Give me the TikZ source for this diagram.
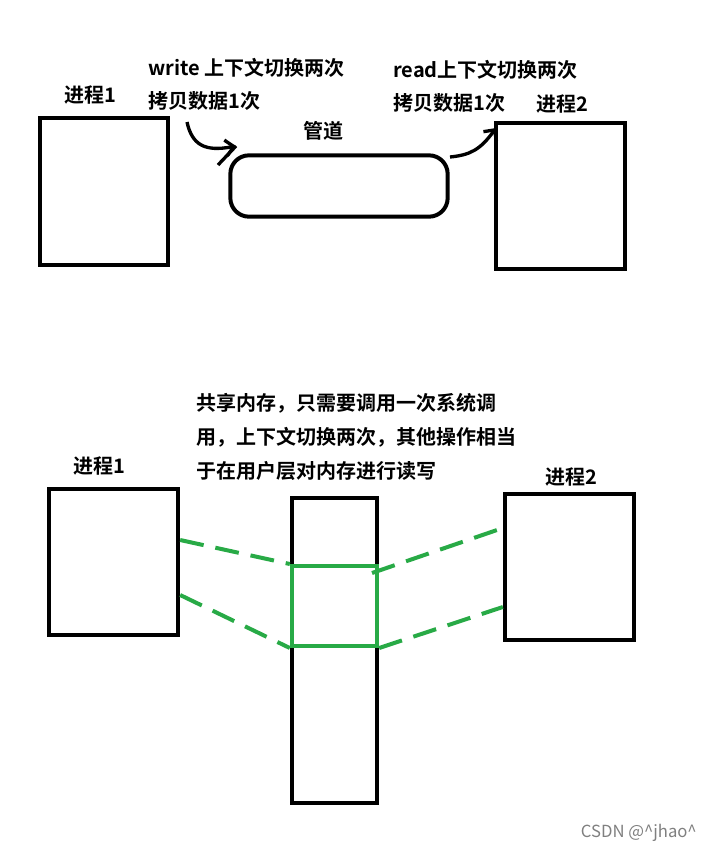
\documentclass[tikz,border=0pt]{standalone}
\usepackage{fontspec}
\setmainfont{Noto Sans CJK SC}
\newfontfamily\cjkb{Noto Sans CJK SC Bold}
\usetikzlibrary{arrows.meta}
\definecolor{grn}{RGB}{40,170,70}
\begin{document}
\begin{tikzpicture}[x=0.75pt,y=-0.75pt]
\tikzset{box/.style={draw,line width=3pt},
 lbl/.style={font=\cjkb\fontsize{15}{17}\selectfont,inner sep=0pt,anchor=west},
 gline/.style={draw=grn,line width=3pt,dash pattern=on 18pt off 9pt}}
\useasboundingbox (0,0) rectangle (711,853);
\fill[white] (0,0) rectangle (711,853);
% top
\node[box,minimum width=96pt,minimum height=110pt,inner sep=0pt] (p1) at (104,191.5) {};
\node[lbl] (p1l) at (64,95) {进程1};
\node[box,minimum width=97pt,minimum height=110pt,inner sep=0pt] (p2) at (560.5,196) {};
\node[lbl] (p2l) at (536,104) {进程2};
\node[box,rounded corners=14pt,minimum width=163pt,minimum height=46pt,inner sep=0pt] (pipe) at (339,186) {};
\node[lbl] (pipel) at (303,131) {管道};
\node[lbl] (w1) at (148,68) {write 上下文切换两次};
\node[lbl] (w2) at (148,101) {拷贝数据1次};
\node[lbl] (r1) at (393,70) {read上下文切换两次};
\node[lbl] (r2) at (393,103) {拷贝数据1次};
\coordinate (a1s) at (187,122); \coordinate (a1e) at (236,146);
\coordinate (a2s) at (450,157); \coordinate (a2e) at (496,128);
\draw[line width=2.5pt,-{Straight Barb[length=6pt]}] (a1s) .. controls (192,145) and (205,152) .. (a1e);
\draw[line width=2.5pt] (218,165) -- (236,146);
\draw[line width=2.5pt,-{Straight Barb[length=6pt]}] (a2s) .. controls (470,155) and (480,150) .. (a2e);
% bottom
\node[lbl] (t1) at (196,403) {共享内存，只需要调用一次系统调};
\node[lbl] (t2) at (196,437) {用，上下文切换两次，其他操作相当};
\node[lbl] (t3) at (196,471) {于在用户层对内存进行读写};
\node[box,minimum width=97pt,minimum height=110pt,inner sep=0pt] (q1) at (113.5,562) {};
\node[lbl] (q1l) at (73,466) {进程1};
\node[box,minimum width=97pt,minimum height=110pt,inner sep=0pt] (q2) at (569.5,567) {};
\node[lbl] (q2l) at (545,477) {进程2};
\node[box,minimum width=64pt,minimum height=229pt,inner sep=0pt] (col) at (334.5,650.5) {};
\node[draw=grn,line width=3pt,minimum width=64pt,minimum height=60pt,inner sep=0pt] (mem) at (334.5,606) {};
\draw[gline] (q1.east |- 0,540) -- (mem.north west);
\draw[gline] (q1.east |- 0,595) -- (mem.south west);
\draw[gline] (372,573) -- (q2.west |- 0,528);
\draw[gline] (mem.south east) -- (q2.west |- 0,607);
\node[font=\fontsize{12.5}{14}\selectfont,text=gray,anchor=east,inner sep=0pt] (wm) at (697,833) {CSDN @\textasciicircum jhao\textasciicircum};
\end{tikzpicture}
\end{document}
